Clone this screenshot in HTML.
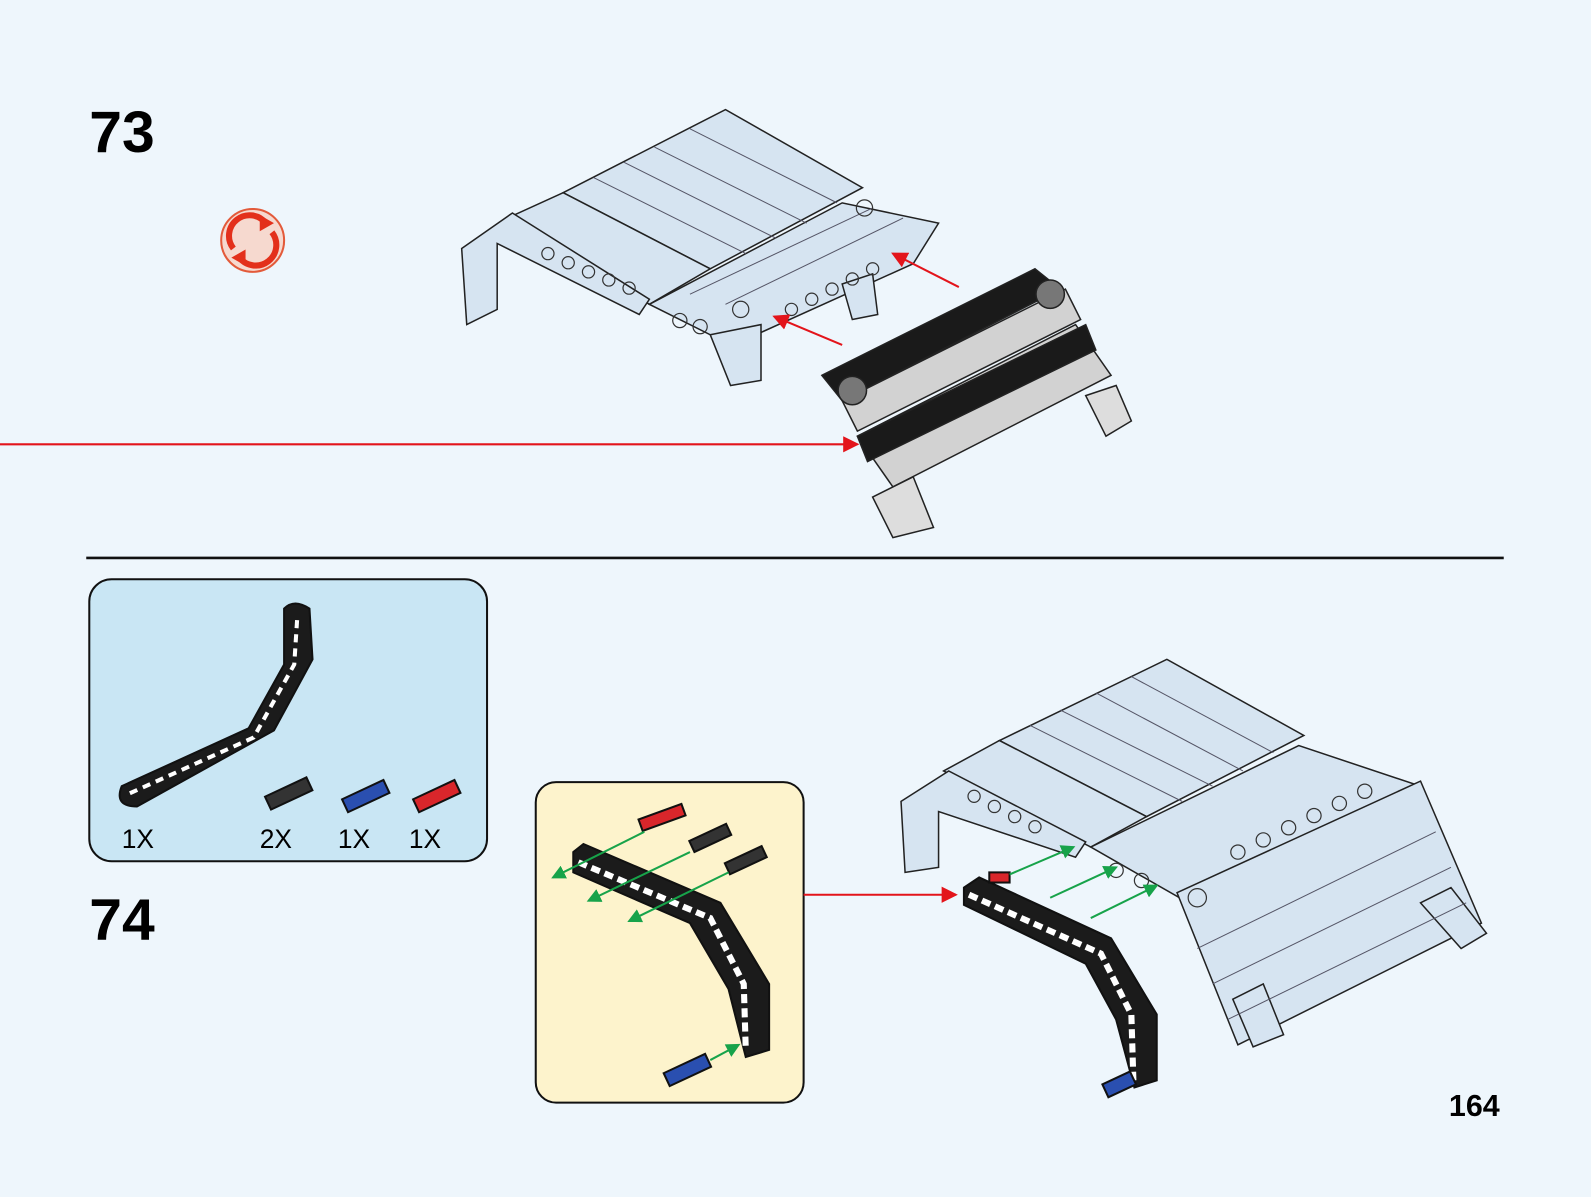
<!DOCTYPE html>
<html><head><meta charset="utf-8"><style>
html,body{margin:0;padding:0;background:#eef6fc;}
svg{display:block}
text{font-family:"Liberation Sans",Arial,sans-serif}
</style></head><body>
<svg width="1591" height="1197" viewBox="0 0 1568 1180" preserveAspectRatio="none" xmlns="http://www.w3.org/2000/svg">
<defs>
<marker id="ag" markerWidth="14" markerHeight="14" refX="12" refY="7" orient="auto" markerUnits="userSpaceOnUse"><path d="M0,0 L14,7 L0,14z" fill="#17a34a"/></marker>
<marker id="ar2" markerWidth="16" markerHeight="16" refX="14" refY="8" orient="auto" markerUnits="userSpaceOnUse"><path d="M0,0 L16,8 L0,16z" fill="#e3141b"/></marker>
</defs>
<rect width="1568" height="1180" fill="#eef6fc"/>
<text x="88" y="150" font-size="58" font-weight="bold">73</text>
<text x="88" y="926" font-size="58" font-weight="bold">74</text>
<text x="1428" y="1100" font-size="30" font-weight="bold">164</text>
<circle cx="249" cy="237" r="31" fill="#f6d9cf" stroke="#e35a3a" stroke-width="2"/>
<path d="M230,245 A20,20 0 0 1 262,220" fill="none" stroke="#e3301b" stroke-width="6"/>
<path d="M268,229 A20,20 0 0 1 236,254" fill="none" stroke="#e3301b" stroke-width="6"/>
<path d="M256,212 L270,220 L256,228z" fill="#e3301b"/>
<path d="M242,262 L228,254 L242,246z" fill="#e3301b"/>
<line x1="85" y1="550" x2="1482" y2="550" stroke="#111" stroke-width="2.5"/>
<line x1="0" y1="438" x2="845" y2="438" stroke="#e3141b" stroke-width="2" marker-end="url(#ar2)"/>
<g stroke="#222" stroke-width="1.5" fill="#d6e4f1">
<polygon points="555,190 715,108 850,185 700,265"/>
<polygon points="500,215 555,190 700,265 640,300"/>
<polygon points="640,300 830,200 925,220 900,260 745,330 700,330"/>
<polygon points="455,245 505,210 640,295 630,310 490,240 490,305 460,320"/>
<polygon points="700,330 750,320 750,375 720,380"/>
<polygon points="830,280 860,270 865,310 840,315"/>
</g>
<g stroke="#556" stroke-width="1" fill="none">
<line x1="585" y1="175" x2="735" y2="250"/><line x1="615" y1="160" x2="765" y2="235"/><line x1="645" y1="145" x2="795" y2="220"/><line x1="680" y1="127" x2="825" y2="200"/>
<line x1="680" y1="290" x2="860" y2="205"/><line x1="715" y1="300" x2="890" y2="215"/>
</g>
<g fill="none" stroke="#333" stroke-width="1.2">
<circle cx="580" cy="268" r="6"/><circle cx="600" cy="276" r="6"/><circle cx="620" cy="284" r="6"/><circle cx="540" cy="250" r="6"/><circle cx="560" cy="259" r="6"/>
<circle cx="780" cy="305" r="6"/><circle cx="800" cy="295" r="6"/><circle cx="820" cy="285" r="6"/><circle cx="840" cy="275" r="6"/><circle cx="860" cy="265" r="6"/>
<circle cx="670" cy="316" r="7"/><circle cx="690" cy="322" r="7"/><circle cx="730" cy="305" r="8"/><circle cx="852" cy="205" r="8"/>
</g>
<g stroke="#222" stroke-width="1.5">
<polygon points="845,430 1060,320 1095,370 880,480" fill="#d2d2d2"/>
<polygon points="845,430 1070,320 1080,345 855,455" fill="#1a1a1a"/>
<polygon points="810,370 1020,265 1045,285 830,395" fill="#1a1a1a"/>
<polygon points="830,395 1050,285 1065,315 845,425" fill="#d2d2d2"/>
<polygon points="860,490 900,470 920,520 880,530" fill="#ddd"/>
<polygon points="1070,390 1100,380 1115,415 1090,430" fill="#ddd"/>
<circle cx="840" cy="385" r="14" fill="#777"/><circle cx="1035" cy="290" r="14" fill="#777"/>
</g>
<line x1="830" y1="340" x2="763" y2="312" stroke="#e3141b" stroke-width="2" marker-end="url(#ar2)"/>
<line x1="945" y1="283" x2="880" y2="250" stroke="#e3141b" stroke-width="2" marker-end="url(#ar2)"/>
<rect x="88" y="571" width="392" height="278" rx="22" fill="#c9e6f4" stroke="#111" stroke-width="2"/>
<g stroke="#111" stroke-width="2">
<path d="M120,775 L245,718 L280,655 L280,600 Q290,590 305,600 L308,650 L270,720 L135,795 Q112,795 120,775z" fill="#1b1b1b"/>
<path d="M128,782 L250,727 L290,655 L293,608" fill="none" stroke="#fff" stroke-width="4" stroke-dasharray="8 6"/>
<rect x="262" y="775" width="45" height="14" fill="#333" transform="rotate(-25 285 782)"/>
<rect x="338" y="778" width="45" height="14" fill="#2a4fb0" transform="rotate(-25 360 785)"/>
<rect x="408" y="778" width="45" height="14" fill="#d9262b" transform="rotate(-25 430 785)"/>
</g>
<g font-size="26"><text x="120" y="836">1X</text><text x="256" y="836">2X</text><text x="333" y="836">1X</text><text x="403" y="836">1X</text></g>
<rect x="528" y="771" width="264" height="316" rx="20" fill="#fdf3cc" stroke="#111" stroke-width="2"/>
<line x1="792" y1="882" x2="942" y2="882" stroke="#e3141b" stroke-width="2" marker-end="url(#ar2)"/>
<g stroke="#111" stroke-width="2">
<path d="M565,840 L575,832 L710,890 L758,970 L758,1035 L735,1042 L718,975 L680,910 L565,860z" fill="#1b1b1b"/>
<path d="M570,850 L700,905 L733,970 L735,1035" fill="none" stroke="#fff" stroke-width="6" stroke-dasharray="9 5"/>
<rect x="630" y="800" width="45" height="12" fill="#d9262b" transform="rotate(-20 652 806)"/>
<rect x="680" y="820" width="40" height="12" fill="#333" transform="rotate(-25 700 826)"/>
<rect x="715" y="842" width="40" height="12" fill="#333" transform="rotate(-25 735 848)"/>
<rect x="655" y="1048" width="45" height="14" fill="#2a4fb0" transform="rotate(-25 677 1055)"/>
</g>
<g stroke="#17a34a" stroke-width="2">
<line x1="635" y1="820" x2="545" y2="865" marker-end="url(#ag)"/>
<line x1="680" y1="840" x2="580" y2="888" marker-end="url(#ag)"/>
<line x1="718" y1="860" x2="620" y2="908" marker-end="url(#ag)"/>
<line x1="700" y1="1045" x2="728" y2="1030" marker-end="url(#ag)"/>
</g>
<g stroke="#222" stroke-width="1.5" fill="#d6e4f1">
<polygon points="985,730 1150,650 1285,725 1130,805"/>
<polygon points="930,760 985,730 1130,805 1075,835"/>
<polygon points="1075,835 1280,735 1400,775 1180,895"/>
<polygon points="1160,880 1400,770 1460,910 1220,1030"/>
<polygon points="888,790 935,760 1070,830 1060,845 925,800 925,855 892,860"/>
<polygon points="1400,890 1430,875 1465,920 1440,935"/>
<polygon points="1215,985 1245,970 1265,1020 1235,1032"/>
</g>
<g stroke="#556" stroke-width="1" fill="none">
<line x1="1015" y1="715" x2="1165" y2="790"/><line x1="1045" y1="700" x2="1195" y2="775"/><line x1="1080" y1="683" x2="1225" y2="760"/><line x1="1115" y1="667" x2="1255" y2="742"/>
<line x1="1180" y1="935" x2="1415" y2="820"/><line x1="1195" y1="970" x2="1430" y2="855"/><line x1="1210" y1="1005" x2="1445" y2="890"/>
</g>
<g fill="none" stroke="#333" stroke-width="1.2">
<circle cx="960" cy="785" r="6"/><circle cx="980" cy="795" r="6"/><circle cx="1000" cy="805" r="6"/><circle cx="1020" cy="815" r="6"/>
<circle cx="1220" cy="840" r="7"/><circle cx="1245" cy="828" r="7"/><circle cx="1270" cy="816" r="7"/><circle cx="1295" cy="804" r="7"/><circle cx="1320" cy="792" r="7"/><circle cx="1345" cy="780" r="7"/>
<circle cx="1180" cy="885" r="9"/><circle cx="1100" cy="858" r="7"/><circle cx="1125" cy="868" r="7"/>
</g>
<g stroke="#111" stroke-width="2">
<path d="M950,875 L965,865 L1095,925 L1140,1000 L1140,1065 L1118,1072 L1100,1005 L1070,950 L950,892z" fill="#1b1b1b"/>
<path d="M955,882 L1085,940 L1115,1000 L1117,1065" fill="none" stroke="#fff" stroke-width="6" stroke-dasharray="9 5"/>
<rect x="1088" y="1062" width="30" height="14" fill="#2a4fb0" transform="rotate(-25 1103 1069)"/>
<rect x="975" y="860" width="20" height="10" fill="#d9262b"/>
</g>
<g stroke="#17a34a" stroke-width="2">
<line x1="995" y1="862" x2="1058" y2="835" marker-end="url(#ag)"/>
<line x1="1035" y1="885" x2="1100" y2="855" marker-end="url(#ag)"/>
<line x1="1075" y1="905" x2="1140" y2="873" marker-end="url(#ag)"/>
</g>
</svg>
</body></html>
